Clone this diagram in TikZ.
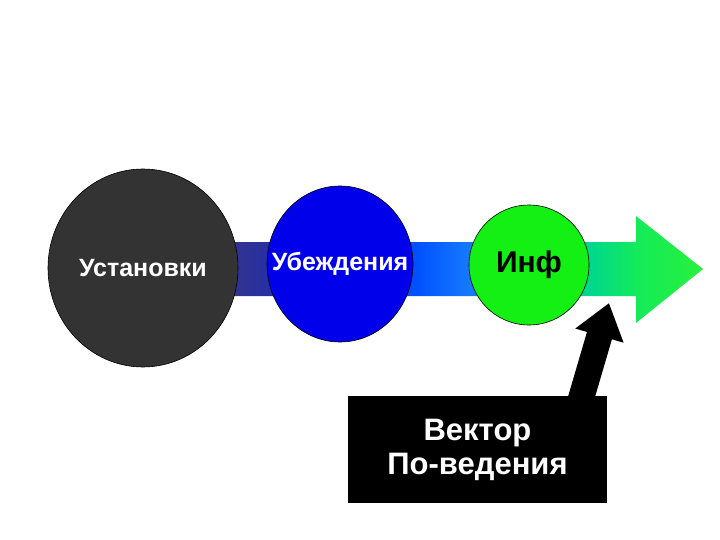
\documentclass[tikz,border=0pt]{standalone}
\usepackage{fontspec}
\setmainfont{Liberation Sans}
\usetikzlibrary{shapes.geometric,arrows.meta}
\definecolor{navyA}{RGB}{50,52,140}
\definecolor{navyB}{RGB}{35,45,175}
\definecolor{blueA}{RGB}{0,80,255}
\definecolor{blueB}{RGB}{20,120,255}
\definecolor{greenA}{RGB}{0,215,140}
\definecolor{greenB}{RGB}{20,235,90}
\definecolor{greenC}{RGB}{40,240,60}
\definecolor{darkgrey}{RGB}{51,51,51}
\definecolor{blueball}{RGB}{0,0,235}
\definecolor{greenball}{RGB}{20,240,20}
\pgfdeclarehorizontalshading{bigarrow}{100bp}{%
  color(0bp)=(navyA);
  color(25bp)=(navyA);
  color(31bp)=(navyB);
  color(44.5bp)=(blueA);
  color(50bp)=(blueB);
  color(63bp)=(greenA);
  color(68bp)=(greenB);
  color(75bp)=(greenC);
  color(100bp)=(greenC)}
\tikzset{
  ball/.style={ellipse, draw=black, line width=0.6pt, inner sep=0pt},
  lbl/.style={font=\bfseries\fontsize{25}{28}\selectfont},
}
\begin{document}
\begin{tikzpicture}[x=1pt,y=-1pt]
\useasboundingbox (0,0) rectangle (720,540);
% big gradient arrow
\shade[shading=bigarrow]
  (230,242) -- (636,242) -- (636,216) -- (703,269) -- (636,323) -- (636,296) -- (230,296) -- cycle;
% balls
\node[ball, fill=darkgrey, minimum width=190, minimum height=198,
      label={[text=white, lbl]center:Установки}] (ust) at (143,268) {};
\node[ball, fill=blueball, minimum width=146, minimum height=156,
      label={[text=white, lbl]center:Убеждения}] (ube) at (340,264) {};
\node[ball, fill=greenball, minimum width=120, minimum height=120,
      label={[text=black, font=\bfseries\fontsize{30}{34}\selectfont]center:Инф}] (inf) at (529,265) {};
% black arrow
\coordinate (as) at (580,402);
\coordinate (at) at (609,303);
\draw[line width=26pt, line cap=butt, -{Triangle[width=48pt,length=34pt]}] (as) -- (at);
% box
\node[fill=black, minimum width=259, minimum height=107, inner sep=0pt,
      text=white, align=center, font=\bfseries\fontsize{31}{34}\selectfont] (box) at (477.5,449.5)
      {Вектор\\По-ведения};
\end{tikzpicture}
\end{document}
